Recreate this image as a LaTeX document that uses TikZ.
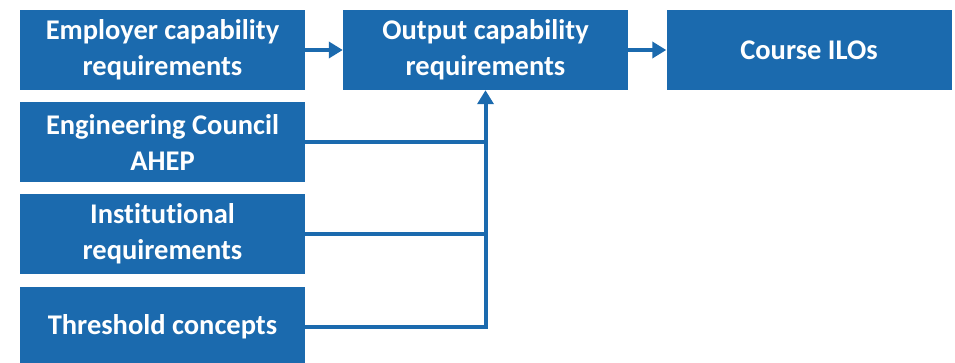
\documentclass[tikz,border=0pt]{standalone}
\usepackage{fontspec}
\setmainfont{Carlito}[Ligatures={NoCommon}]
\usetikzlibrary{arrows.meta}
\definecolor{boxblue}{RGB}{27,106,174}
\tikzset{
  box/.style={rectangle, fill=boxblue, draw=none, text=white,
    minimum width=285pt, minimum height=80pt, align=center,
    font=\fontsize{28.5}{36}\selectfont\bfseries, inner sep=0pt},
  link/.style={draw=boxblue, line width=4pt},
  flow/.style={link, -{Triangle[length=14pt,width=16pt]}}
}
\begin{document}
\begin{tikzpicture}[x=1pt,y=-1pt]
  \useasboundingbox (0,0) rectangle (955,363);
  \clip (0,0) rectangle (955,363);
  \node[box] (emp) at (162.5,50) {Employer capability\\requirements};
  \node[box] (eng) at (162.5,142.5) {Engineering Council\\AHEP};
  \node[box] (inst) at (162.5,234) {Institutional\\requirements};
  \node[box] (thr) at (162.5,327) {Threshold concepts};
  \node[box] (out) at (485.5,50) {Output capability\\requirements};
  \node[box] (ilo) at (809,50) {Course ILOs};
  \draw[flow] (emp) -- (out);
  \draw[flow] (out) -- (ilo);
  \draw[flow] (thr.east) -| (out.south);
  \draw[link] (eng.east) -- (eng.east -| out.south);
  \draw[link] (inst.east) -- (inst.east -| out.south);
\end{tikzpicture}
\end{document}
